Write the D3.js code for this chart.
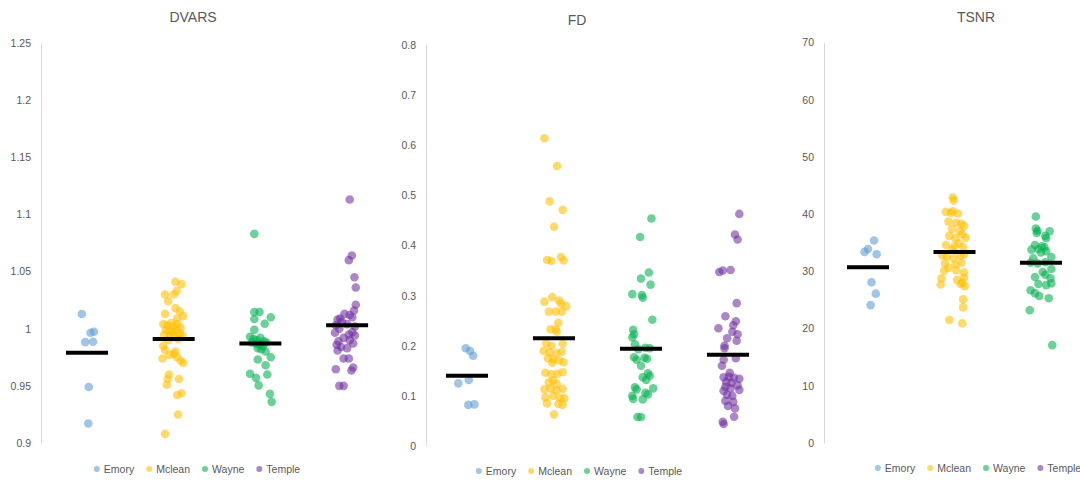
<!DOCTYPE html>
<html><head><meta charset="utf-8">
<script src="https://cdn.jsdelivr.net/npm/d3@7"></script>
<style>body{margin:0;background:#fff} svg{display:block;font-family:"Liberation Sans",Arial,sans-serif}</style>
</head><body><svg id="chart" width="1080" height="481"></svg>
<script>
// ---------- DATA ----------
const categories = ["Emory", "Mclean", "Wayne", "Temple"];
const titles = ["DVARS", "FD", "TSNR"];

const dvarsTicks = [0.9, 0.95, 1, 1.05, 1.1, 1.15, 1.2, 1.25];
const dvarsTickLabels = ["0.9", "0.95", "1", "1.05", "1.1", "1.15", "1.2", "1.25"];
const fdTicks = [0, 0.1, 0.2, 0.3, 0.4, 0.5, 0.6, 0.7, 0.8];
const fdTickLabels = ["0", "0.1", "0.2", "0.3", "0.4", "0.5", "0.6", "0.7", "0.8"];
const tsnrTicks = [0, 10, 20, 30, 40, 50, 60, 70];
const tsnrTickLabels = ["0", "10", "20", "30", "40", "50", "60", "70"];

// group means (black bars)
const dvarsMeans = [0.979, 0.991, 0.987, 1.003];
const fdMeans = [0.140, 0.215, 0.194, 0.182];
const tsnrMeans = [30.7, 33.4, 31.5];

// points: [x position in category units (jittered), value]
const dvarsEmory = [[0.94,1.0129],[1.08,0.9974],[1.04,0.9965],[0.98,0.9883],[1.07,0.9886],[1.02,0.949],[1.015,0.917]];
const dvarsMclean = [[2.02,1.041],[2.09,1.039],[1.90,1.030],[2.00,1.030],[2.035,1.033],[1.935,1.024],[2.02,1.018],[1.90,1.013],[2.07,1.015],[2.11,1.011],[2.04,1.009],
  [1.88,1.004],[1.93,1.003],[1.97,1.005],[2.00,1.002],[2.04,1.004],[2.08,1.001],[1.91,0.999],[1.95,0.998],[1.99,0.997],[2.03,0.999],[2.07,0.996],[1.89,0.995],[1.96,0.994],[2.01,0.993],[2.10,0.994],[1.94,0.990],[2.05,0.991],
  [1.88,0.985],[1.90,0.9815],[1.87,0.974],[2.00,0.978],[2.04,0.975],[2.08,0.972],[2.11,0.970],[1.95,0.977],[2.02,0.980],
  [1.945,0.960],[1.93,0.956],[2.06,0.956],[1.92,0.951],[2.04,0.942],[2.09,0.9435],[2.05,0.925],[1.90,0.908]];
const dvarsWayne = [[2.93,1.083],[2.93,1.0146],[2.99,1.0146],[3.12,1.010],[2.93,1.0085],[3.05,1.0044],[2.93,0.999],
  [2.88,0.993],[2.92,0.991],[2.96,0.990],[3.00,0.992],[3.04,0.989],[2.90,0.988],[2.95,0.987],[2.99,0.986],[3.03,0.985],[3.07,0.988],[2.97,0.983],[3.01,0.982],
  [3.06,0.980],[3.12,0.975],[2.97,0.973],[3.06,0.968],[2.88,0.9606],[2.95,0.957],[3.08,0.960],[2.98,0.9504],[3.11,0.943],[3.13,0.936]];
const dvarsTemple = [[4.03,1.113],[4.055,1.064],[4.02,1.060],[4.085,1.045],[4.10,1.036],[4.10,1.021],[4.08,1.016],[4.03,1.012],[3.97,1.013],[3.92,1.009],[3.89,1.008],[4.06,1.010],[3.94,1.006],[4.00,1.004],[3.87,1.003],[4.09,1.002],[3.91,1.000],[3.86,0.9965],[4.06,0.997],[4.09,0.994],[4.02,0.995],[3.96,0.992],[3.90,0.989],[3.88,0.986],[4.03,0.990],[4.07,0.987],[3.93,0.984],[4.00,0.983],[3.89,0.981],[3.96,0.974],[4.02,0.974],[3.87,0.9645],[4.05,0.9635],[4.07,0.966],[3.91,0.950],[3.96,0.950]];

const fdEmory = [[0.985,0.195],[1.035,0.1895],[1.07,0.180],[0.90,0.125],[1.02,0.1317],[1.015,0.082],[1.085,0.083]];
const fdMclean = [[1.89,0.614],[2.035,0.5586],[1.95,0.488],[2.10,0.471],[2.00,0.4375],[1.92,0.371],[1.97,0.369],[2.08,0.377],[2.11,0.370],
  [1.98,0.297],[1.89,0.288],[2.06,0.290],[2.08,0.284],[2.14,0.279],[1.94,0.268],[2.02,0.268],[2.09,0.268],[2.05,0.246],[1.96,0.233],[2.02,0.233],[2.03,0.228],
  [1.91,0.205],[2.10,0.204],[1.97,0.200],[1.88,0.190],[1.95,0.187],[2.03,0.185],[2.09,0.188],[1.93,0.175],[1.99,0.173],[2.06,0.171],[2.11,0.167],[1.98,0.166],
  [1.90,0.146],[1.97,0.143],[2.04,0.144],[2.10,0.147],[1.99,0.131],[2.03,0.124],[1.94,0.127],[1.89,0.113],[1.96,0.115],[2.03,0.111],[2.10,0.114],[1.90,0.097],[1.99,0.100],[2.07,0.096],[2.12,0.095],[1.92,0.085],[2.05,0.084],[2.10,0.082],[2.00,0.063]];
const fdWayne = [[3.12,0.454],[2.99,0.417],[3.09,0.346],[3.00,0.334],[3.11,0.322],[2.90,0.303],[3.01,0.301],[3.02,0.296],[3.13,0.252],[2.91,0.232],[2.92,0.223],[2.90,0.217],[2.93,0.203],[3.05,0.196],[3.10,0.195],[2.97,0.193],[2.92,0.177],[2.95,0.172],[3.04,0.176],[3.07,0.174],[3.00,0.160],[3.08,0.145],[3.10,0.140],[3.02,0.137],[3.06,0.132],[2.93,0.117],[2.95,0.113],[3.14,0.115],[3.05,0.106],[2.90,0.100],[2.91,0.094],[3.02,0.093],[3.08,0.103],[2.96,0.058],[3.00,0.058]];
const fdTemple = [[4.13,0.463],[4.08,0.422],[4.11,0.412],[3.90,0.347],[3.94,0.350],[4.03,0.351],[4.10,0.285],[3.97,0.259],[4.09,0.249],[4.06,0.241],[3.89,0.235],[4.05,0.228],[4.11,0.223],[3.99,0.215],[4.10,0.210],[3.96,0.200],[3.96,0.195],[3.95,0.172],[4.09,0.175],[3.93,0.160],[4.02,0.146],[3.95,0.137],[4.01,0.138],[4.07,0.136],[4.13,0.134],[3.98,0.128],[4.04,0.126],[4.11,0.121],[3.97,0.118],[4.03,0.115],[3.95,0.110],[4.13,0.112],[3.99,0.102],[4.05,0.100],[3.97,0.090],[4.06,0.088],[4.00,0.080],[4.08,0.075],[4.07,0.0585],[3.94,0.0485],[3.95,0.044]];

const tsnrEmory = [[1.07,35.4],[0.96,33.4],[1.00,33.9],[1.10,33.0],[1.04,28.1],[1.09,26.1],[1.03,24.1]];
const tsnrMclean = [[1.98,42.9],[1.99,42.4],[1.90,40.4],[1.98,40.5],[1.96,40.2],[2.04,40.1],[1.93,38.7],[2.08,38.3],[2.11,37.9],[2.02,38.5],[1.97,37.4],[2.06,37.0],[2.09,36.5],[1.94,36.2],[2.01,35.8],[2.13,35.9],[1.90,34.6],[2.00,34.4],[2.10,34.2],[1.97,33.8],[2.05,34.9],
  [1.86,32.8],[1.91,32.6],[1.99,32.3],[2.07,32.7],[2.11,33.0],[1.89,31.4],[2.01,31.2],[2.08,31.5],[1.93,30.6],[1.88,30.1],[2.02,30.2],[2.11,29.8],[1.85,28.8],[2.03,28.5],[2.11,28.9],[1.84,27.7],[2.07,27.8],[2.12,27.4],[2.09,28.0],
  [2.10,25.1],[2.10,23.7],[1.94,21.5],[2.09,20.9]];
const tsnrWayne = [[2.94,39.6],[2.94,37.5],[2.96,37.1],[2.95,36.7],[3.10,37.0],[3.05,36.2],[3.06,35.8],[2.93,34.6],[3.01,34.4],[2.89,33.8],[2.97,33.9],[3.04,34.2],[3.06,33.5],[3.00,33.3],[3.12,32.5],[2.91,32.3],[2.88,31.5],[2.96,31.4],[3.05,31.6],[3.12,30.4],[3.02,29.9],[2.93,29.0],[3.05,29.4],[3.11,28.8],[2.97,27.8],[3.06,27.6],[3.12,27.9],[2.88,26.7],[2.93,26.2],[2.98,25.7],[3.09,25.3],[2.87,23.2],[3.13,17.1]];

// ---------- STYLE / LAYOUT ----------
const colors = ["#5B9BD5", "#FFC000", "#00B050", "#7030A0"];
const textColor = "#595959";
const dotR = 4.3, dotOpacity = 0.58, meanHalf = 21;

const panels = [
  {title: titles[0], ticks: dvarsTicks, labels: dvarsTickLabels, series: [dvarsEmory, dvarsMclean, dvarsWayne, dvarsTemple], means: dvarsMeans,
   axisX: 41, x1: 87, step: 86.7, yTop: 43, yBot: 443, titleX: 193, titleY: 22, legendY: 469, legendCX: 197},
  {title: titles[1], ticks: fdTicks, labels: fdTickLabels, series: [fdEmory, fdMclean, fdWayne, fdTemple], means: fdMeans,
   axisX: 426, x1: 467, step: 87, yTop: 45, yBot: 446, titleX: 577, titleY: 25, legendY: 471, legendCX: 579},
  {title: titles[2], ticks: tsnrTicks, labels: tsnrTickLabels, series: [tsnrEmory, tsnrMclean, tsnrWayne], means: tsnrMeans,
   axisX: 824, x1: 868, step: 86.5, yTop: 42.5, yBot: 443, titleX: 976, titleY: 22, legendY: 468, legendCX: 978}
];

const svg = d3.select("#chart");

panels.forEach(p => {
  const g = svg.append("g");
  const y = d3.scaleLinear().domain(d3.extent(p.ticks)).range([p.yBot, p.yTop]);
  const x = d3.scaleLinear().domain([1, 4]).range([p.x1, p.x1 + 3 * p.step]);

  // title
  g.append("text").attr("x", p.titleX).attr("y", p.titleY).attr("text-anchor", "middle")
    .attr("fill", textColor).style("font-size", "14px").text(p.title);

  // y axis
  const ax = g.append("g").attr("transform", `translate(${p.axisX},0)`)
    .call(d3.axisLeft(y).tickValues(p.ticks).tickFormat((d, i) => p.labels[i]).tickSize(0).tickSizeOuter(0).tickPadding(10));
  ax.select(".domain").attr("stroke", "#d9d9d9").attr("stroke-width", 1);
  ax.selectAll("text").attr("fill", textColor).style("font-size", "10.5px").style("font-family", '"Liberation Sans",Arial,sans-serif');

  // points
  p.series.forEach((pts, ci) => {
    g.append("g").selectAll("circle").data(pts).join("circle")
      .attr("cx", d => x(d[0])).attr("cy", d => y(d[1])).attr("r", dotR)
      .attr("fill", colors[ci]).attr("fill-opacity", dotOpacity);
  });

  // mean bars
  g.append("g").selectAll("line").data(p.means).join("line")
    .attr("x1", (d, i) => x(i + 1) - meanHalf).attr("x2", (d, i) => x(i + 1) + meanHalf)
    .attr("y1", d => y(d)).attr("y2", d => y(d))
    .attr("stroke", "#000").attr("stroke-width", 4);

  // legend
  const lg = g.append("g");
  const items = lg.selectAll("g").data(categories).join("g");
  items.append("circle").attr("r", 3).attr("cx", 0).attr("cy", 0)
    .attr("fill", (d, i) => colors[i]).attr("fill-opacity", dotOpacity);
  items.append("text").attr("x", 7).attr("y", 0).attr("dy", "0.35em")
    .attr("fill", textColor).style("font-size", "10.5px").text(d => d);
  let cx = 0;
  items.each(function () {
    const w = this.querySelector("text").getComputedTextLength();
    d3.select(this).attr("transform", `translate(${cx},0)`);
    cx += 7 + w + 15;
  });
  const total = cx - 15 + 3;
  lg.attr("transform", `translate(${p.legendCX - total / 2 + 3},${p.legendY})`);
});
</script></body></html>
